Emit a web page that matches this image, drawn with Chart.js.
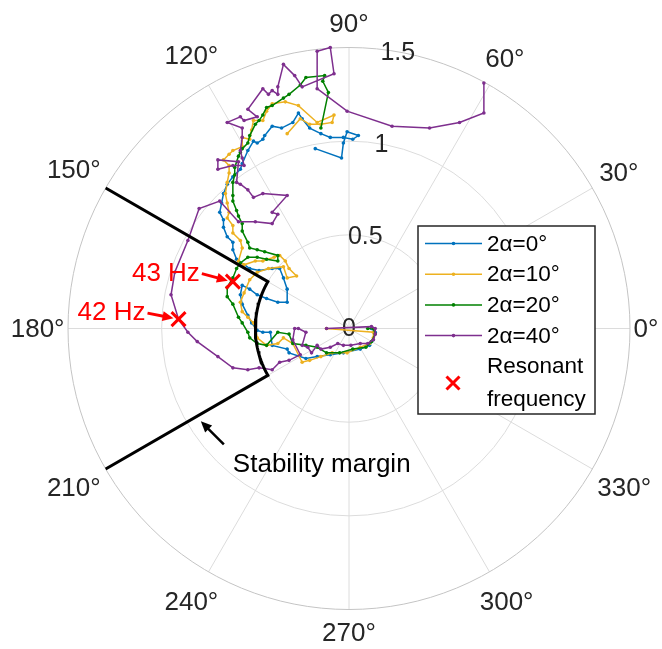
<!DOCTYPE html>
<html>
<head>
<meta charset="utf-8">
<script src="https://cdn.jsdelivr.net/npm/chart.js@4.4.0/dist/chart.umd.min.js"></script>
<style>
  html, body { margin: 0; padding: 0; background: #fff; }
</style>
</head>
<body>
<canvas id="myChart" width="662" height="649"></canvas>
<script>
// open-loop response, real and imaginary parts, one pair per tilt angle
const re0 = [-0.18,-0.04,-0.03,-0.01,0.05,0.02,-0.03,-0.10,-0.15,-0.21,-0.25,-0.27,-0.30,-0.36,-0.41,-0.45,-0.46,-0.49,-0.51,-0.54,-0.57,-0.58,-0.62,-0.65,-0.67,-0.68,-0.69,-0.67,-0.67,-0.65,-0.62,-0.62,-0.60,-0.53,-0.48,-0.41,-0.37,-0.35,-0.33,-0.33,-0.38,-0.44,-0.49,-0.53,-0.57,-0.58,-0.57,-0.54,-0.52,-0.49,-0.46,-0.42,-0.41,-0.33,-0.32,-0.23,-0.17,-0.10,-0.03,0.06,0.11,0.13,0.14,0.12];
const im0 = [0.96,0.91,0.99,1.05,1.03,1.01,1.02,1.02,1.04,1.07,1.12,1.15,1.10,1.07,1.08,1.03,1.01,0.99,1.00,0.95,0.88,0.85,0.81,0.77,0.72,0.67,0.62,0.58,0.54,0.49,0.46,0.42,0.37,0.32,0.31,0.32,0.32,0.27,0.21,0.14,0.14,0.16,0.18,0.21,0.23,0.18,0.13,0.07,0.03,-0.01,-0.02,-0.02,-0.09,-0.11,-0.13,-0.16,-0.15,-0.14,-0.13,-0.11,-0.09,-0.06,-0.02,0.00];

const re10 = [-0.33,-0.26,-0.21,-0.15,-0.09,-0.08,-0.17,-0.27,-0.34,-0.41,-0.44,-0.46,-0.51,-0.52,-0.53,-0.57,-0.57,-0.62,-0.64,-0.67,-0.64,-0.64,-0.65,-0.66,-0.65,-0.64,-0.65,-0.62,-0.62,-0.58,-0.57,-0.59,-0.56,-0.50,-0.46,-0.40,-0.37,-0.34,-0.32,-0.28,-0.33,-0.35,-0.43,-0.49,-0.53,-0.56,-0.58,-0.57,-0.54,-0.51,-0.50,-0.49,-0.44,-0.38,-0.35,-0.30,-0.25,-0.21,-0.15,-0.09,-0.01,0.06,0.11,0.13,0.13,-0.12];
const im10 = [1.04,1.12,1.09,1.09,1.10,1.14,1.10,1.19,1.21,1.20,1.16,1.11,1.11,1.06,1.01,1.02,0.97,0.95,0.93,0.90,0.87,0.83,0.78,0.72,0.67,0.62,0.59,0.55,0.51,0.47,0.43,0.36,0.34,0.36,0.36,0.38,0.39,0.36,0.32,0.28,0.27,0.33,0.32,0.30,0.26,0.19,0.14,0.09,0.06,0.03,0.01,-0.05,-0.09,-0.08,-0.05,-0.08,-0.18,-0.17,-0.15,-0.13,-0.13,-0.10,-0.08,-0.05,-0.02,0.00];

const re20 = [-0.15,-0.11,-0.14,-0.13,-0.23,-0.26,-0.32,-0.35,-0.41,-0.44,-0.46,-0.48,-0.50,-0.53,-0.54,-0.57,-0.58,-0.59,-0.61,-0.61,-0.62,-0.62,-0.62,-0.60,-0.59,-0.57,-0.57,-0.54,-0.53,-0.49,-0.45,-0.38,-0.38,-0.44,-0.49,-0.54,-0.58,-0.60,-0.62,-0.65,-0.65,-0.62,-0.59,-0.57,-0.54,-0.53,-0.49,-0.44,-0.38,-0.32,-0.30,-0.23,-0.17,-0.12,-0.05,0.02,0.09,0.12,0.14,0.13,0.10];
const im20 = [1.07,1.26,1.32,1.35,1.34,1.30,1.25,1.23,1.19,1.18,1.14,1.11,1.09,1.03,0.99,0.96,0.94,0.92,0.86,0.82,0.78,0.71,0.68,0.63,0.60,0.56,0.52,0.46,0.43,0.42,0.41,0.39,0.36,0.37,0.38,0.38,0.35,0.32,0.27,0.22,0.17,0.13,0.06,0.03,-0.02,-0.05,-0.08,-0.09,-0.02,-0.03,-0.08,-0.09,-0.10,-0.13,-0.13,-0.11,-0.10,-0.07,-0.03,0.00,0.00];

const re40 = [0.72,0.72,0.59,0.43,0.23,-0.01,-0.17,-0.17,-0.10,-0.08,-0.25,-0.29,-0.35,-0.38,-0.38,-0.41,-0.43,-0.46,-0.54,-0.49,-0.56,-0.58,-0.65,-0.57,-0.57,-0.58,-0.57,-0.56,-0.62,-0.70,-0.70,-0.59,-0.60,-0.58,-0.54,-0.51,-0.46,-0.33,-0.41,-0.38,-0.41,-0.50,-0.59,-0.69,-0.80,-0.86,-0.93,-0.95,-0.91,-0.86,-0.81,-0.70,-0.62,-0.54,-0.48,-0.41,-0.37,-0.32,-0.26,-0.30,-0.29,-0.27,-0.23,-0.25,-0.22,-0.20,-0.17,-0.15,-0.10,-0.06,-0.03,0.01,0.06,0.10,0.13,0.14,0.14,0.12,-0.12];
const im40 = [1.31,1.15,1.10,1.07,1.08,1.16,1.28,1.48,1.50,1.36,1.29,1.35,1.41,1.29,1.25,1.27,1.25,1.28,1.17,1.13,1.11,1.13,1.10,1.07,1.02,0.95,0.91,0.87,0.87,0.85,0.90,0.89,0.78,0.77,0.74,0.70,0.72,0.71,0.62,0.61,0.56,0.57,0.57,0.68,0.64,0.47,0.30,0.18,0.05,-0.02,-0.07,-0.15,-0.21,-0.22,-0.21,-0.22,-0.18,-0.17,-0.14,-0.06,0.00,0.00,-0.02,-0.09,-0.10,-0.13,-0.09,-0.11,-0.10,-0.08,-0.09,-0.09,-0.08,-0.08,-0.06,-0.03,0.00,0.01,0.00];

const seriesLabels = ['2\u03b1=0\u00b0', '2\u03b1=10\u00b0', '2\u03b1=20\u00b0', '2\u03b1=40\u00b0'];
const seriesColors = ['#0072BD', '#EDB120', '#008000', '#7E2F8E'];

// resonant points
const resonantLabels = ['43 Hz', '42 Hz'];
const resonantRe = [-0.62, -0.91];
const resonantIm = [0.25, 0.05];

// polar axes
const rTicks = [0, 0.5, 1, 1.5];
const rTickLabels = ['0', '0.5', '1', '1.5'];
const rLabelAngle = 80;
const thetaTicks = [0, 30, 60, 90, 120, 150, 180, 210, 240, 270, 300, 330];
const rMax = 1.5;

// stability margin boundary
const marginR = 0.5;
const marginFrom = 150;
const marginTo = 210;

const FONT = '"Liberation Sans", Arial, Helvetica, sans-serif';
const toRad = d => d * Math.PI / 180;

function zip(re, im) {
  return re.map((v, i) => ({ x: v, y: im[i] }));
}

function marginPoints() {
  const pts = [{ x: rMax * Math.cos(toRad(marginFrom)), y: rMax * Math.sin(toRad(marginFrom)) }];
  for (let a = marginFrom; a <= marginTo; a += 2) {
    pts.push({ x: marginR * Math.cos(toRad(a)), y: marginR * Math.sin(toRad(a)) });
  }
  pts.push({ x: rMax * Math.cos(toRad(marginTo)), y: rMax * Math.sin(toRad(marginTo)) });
  return pts;
}

function arrow(ctx, x0, y0, x1, y1, color, w, head) {
  const a = Math.atan2(y1 - y0, x1 - x0);
  const c = Math.cos(a), s = Math.sin(a);
  ctx.save();
  ctx.strokeStyle = color;
  ctx.fillStyle = color;
  ctx.lineWidth = w;
  ctx.beginPath();
  ctx.moveTo(x0, y0);
  ctx.lineTo(x1 - head * 0.7 * c, y1 - head * 0.7 * s);
  ctx.stroke();
  ctx.beginPath();
  ctx.moveTo(x1, y1);
  ctx.lineTo(x1 - head * c + head * 0.45 * s, y1 - head * s - head * 0.45 * c);
  ctx.lineTo(x1 - head * c - head * 0.45 * s, y1 - head * s + head * 0.45 * c);
  ctx.closePath();
  ctx.fill();
  ctx.restore();
}

function cross(ctx, x, y, size, color) {
  ctx.save();
  ctx.strokeStyle = color;
  ctx.lineWidth = 3;
  ctx.beginPath();
  ctx.moveTo(x - size, y - size); ctx.lineTo(x + size, y + size);
  ctx.moveTo(x - size, y + size); ctx.lineTo(x + size, y - size);
  ctx.stroke();
  ctx.restore();
}

// grid circles, spokes and tick labels under the curves
const polarGrid = {
  id: 'polarGrid',
  beforeDatasetsDraw(chart) {
    const { ctx, scales: { x, y } } = chart;
    const cx = x.getPixelForValue(0), cy = y.getPixelForValue(0);
    const unit = x.getPixelForValue(1) - cx;
    const R = rMax * unit;
    ctx.save();
    ctx.lineWidth = 1;
    ctx.strokeStyle = '#dcdcdc';
    thetaTicks.forEach(t => {
      ctx.beginPath();
      ctx.moveTo(cx, cy);
      ctx.lineTo(cx + R * Math.cos(toRad(t)), cy - R * Math.sin(toRad(t)));
      ctx.stroke();
    });
    rTicks.forEach(r => {
      if (r <= 0) return;
      ctx.strokeStyle = r === rMax ? '#c4c4c4' : '#dcdcdc';
      ctx.beginPath();
      ctx.arc(cx, cy, r * unit, 0, 2 * Math.PI);
      ctx.stroke();
    });

    ctx.fillStyle = '#262626';
    ctx.font = '26px ' + FONT;
    ctx.textAlign = 'center';
    ctx.textBaseline = 'middle';
    const halfH = 20, gap = 3.5;
    thetaTicks.forEach(t => {
      const txt = t + '\u00b0';
      const w = ctx.measureText(txt).width;
      const c = Math.cos(toRad(t)), s = Math.sin(toRad(t));
      const off = R + gap + Math.abs(c) * w / 2 + Math.abs(s) * halfH;
      ctx.fillText(txt, cx + off * c, cy - off * s + 1);
    });
    ctx.font = '25px ' + FONT;
    rTicks.forEach((r, i) => {
      const px = cx + r * unit * Math.cos(toRad(rLabelAngle));
      const py = cy - r * unit * Math.sin(toRad(rLabelAngle));
      ctx.fillText(rTickLabels[i], px, py + 1);
    });
    ctx.restore();
  },
  afterDatasetsDraw(chart) {
    const { ctx, scales: { x, y } } = chart;
    ctx.save();
    // resonant frequency marks with their labels
    ctx.font = '26px ' + FONT;
    ctx.fillStyle = '#ff0000';
    ctx.textAlign = 'right';
    ctx.textBaseline = 'middle';
    const lblDy = [-8, -6];
    resonantLabels.forEach((lbl, i) => {
      const mx = x.getPixelForValue(resonantRe[i]);
      const my = y.getPixelForValue(resonantIm[i]);
      ctx.fillText(lbl, mx - 33, my + lblDy[i]);
      arrow(ctx, mx - 31, my + lblDy[i], mx - 5, my - 1, '#ff0000', 3, 11);
      cross(ctx, mx, my, 7, '#ff0000');
    });
    // stability margin note
    const sx = x.getPixelForValue(-0.62), sy = y.getPixelForValue(-0.725);
    ctx.fillStyle = '#000';
    ctx.textAlign = 'left';
    ctx.fillText('Stability margin', sx, sy + 1);
    arrow(ctx, sx - 9, sy - 20, sx - 32, sy - 43, '#000', 2.5, 11);
    ctx.restore();
  },
  afterDraw(chart) {
    const { ctx } = chart;
    const lx = 418, ly = 226, lw = 177, lh = 188;
    ctx.save();
    ctx.fillStyle = '#fff';
    ctx.fillRect(lx, ly, lw, lh);
    ctx.strokeStyle = '#262626';
    ctx.lineWidth = 1.5;
    ctx.strokeRect(lx, ly, lw, lh);
    ctx.font = '22.5px ' + FONT;
    ctx.textBaseline = 'middle';
    ctx.textAlign = 'left';
    seriesLabels.forEach((lbl, i) => {
      const yy = ly + 17.5 + i * 30.7;
      ctx.strokeStyle = seriesColors[i];
      ctx.lineWidth = 1.5;
      ctx.beginPath();
      ctx.moveTo(lx + 7, yy);
      ctx.lineTo(lx + 64, yy);
      ctx.stroke();
      ctx.fillStyle = seriesColors[i];
      ctx.beginPath();
      ctx.arc(lx + 35.5, yy, 1.8, 0, 2 * Math.PI);
      ctx.fill();
      ctx.fillStyle = '#000';
      ctx.fillText(lbl, lx + 69, yy + 1);
    });
    cross(ctx, lx + 35, ly + 157, 6.5, '#ff0000');
    ctx.fillStyle = '#000';
    ctx.fillText('Resonant', lx + 69, ly + 141);
    ctx.fillText('frequency', lx + 69, ly + 174);
    ctx.restore();
  }
};

const reList = [re0, re10, re20, re40];
const imList = [im0, im10, im20, im40];

const datasets = seriesLabels.map((lbl, i) => ({
  label: lbl,
  data: zip(reList[i], imList[i]),
  showLine: true,
  borderColor: seriesColors[i],
  backgroundColor: seriesColors[i],
  borderWidth: 1.5,
  pointRadius: 1.8,
  pointBorderWidth: 0,
  tension: 0,
  clip: false,
  order: 4 - i
}));

datasets.push({
  label: 'Stability margin',
  data: marginPoints(),
  showLine: true,
  borderColor: '#000',
  borderWidth: 3,
  pointRadius: 0,
  tension: 0,
  clip: false,
  order: 0
});

const ctx = document.getElementById('myChart').getContext('2d');
const myChart = new Chart(ctx, {
  type: 'scatter',
  data: { datasets },
  options: {
    responsive: false,
    animation: false,
    layout: { padding: { left: 68, right: 32, top: 47.5, bottom: 39.5 } },
    scales: {
      x: { type: 'linear', min: -rMax, max: rMax, display: false },
      y: { type: 'linear', min: -rMax, max: rMax, display: false }
    },
    plugins: {
      legend: { display: false },
      tooltip: { enabled: false }
    }
  },
  plugins: [polarGrid]
});
</script>
</body>
</html>
